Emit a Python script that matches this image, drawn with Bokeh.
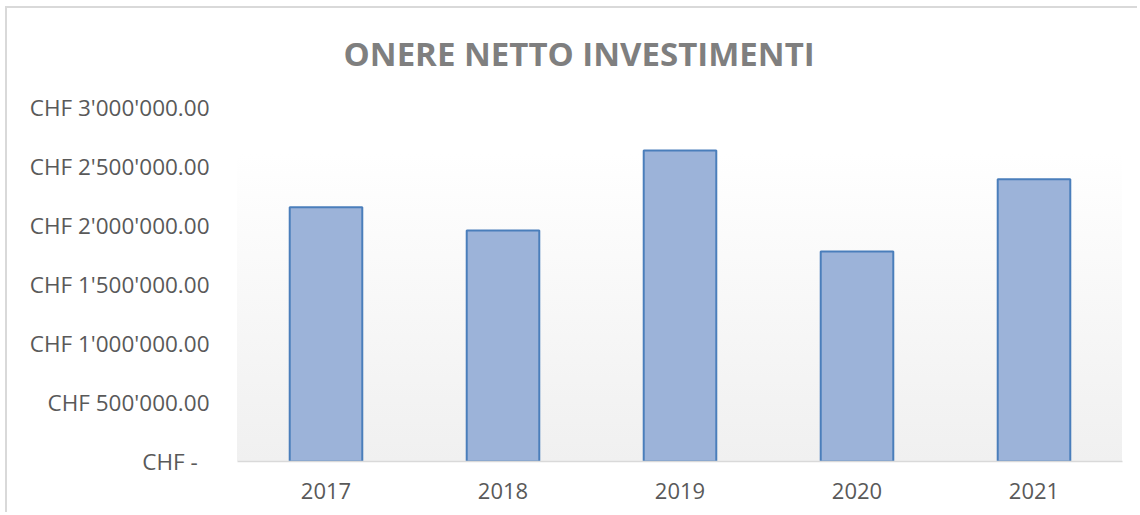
from bokeh.plotting import figure
from bokeh.models import FactorRange, Range1d, FixedTicker, Label
from bokeh.embed import file_html
from bokeh.resources import INLINE

years = ["2017", "2018", "2019", "2020", "2021"]
values = [2155000, 1958000, 2636000, 1780000, 2392000]
y_ticks = [0, 500000, 1000000, 1500000, 2000000, 2500000, 3000000]
y_tick_labels = ["CHF -\u00a0\u00a0", "CHF 500'000.00", "CHF 1'000'000.00", "CHF 1'500'000.00",
                 "CHF 2'000'000.00", "CHF 2'500'000.00", "CHF 3'000'000.00"]
title_text = "ONERE NETTO INVESTIMENTI"

FONT = "Open Sans"

# y range extends above the last tick to leave room for the title inside the frame
p = figure(
    x_range=FactorRange(*years, range_padding=0),
    y_range=Range1d(0, 3670000),
    width=1132, height=506,
    output_backend="svg", toolbar_location=None,
    min_border_left=230, min_border_right=17, min_border_top=20, min_border_bottom=53,
)
p.styles = {
    "margin-top": "6px",
    "margin-left": "5px",
    "border-top": "2px solid #d9d9d9",
    "border-left": "2px solid #d9d9d9",
    "background": "linear-gradient(to bottom, #ffffff, #f0f0f0) 230px 145px / 885px 308px no-repeat, #ffffff",
}
p.background_fill_color = None
p.border_fill_color = None
p.outline_line_color = None

p.vbar(x=years, top=values, width=0.41, bottom=0,
       fill_color="#9cb3d9", line_color="#4a7ebb", line_width=2)

# chart title
p.add_layout(Label(x=1.93, y=3458000, text=title_text, text_align="center",
                   text_baseline="alphabetic", text_font=FONT, text_font_size="33px",
                   text_font_style="bold", text_color="#7f7f7f"))

p.xgrid.grid_line_color = None
p.ygrid.grid_line_color = None

p.yaxis.ticker = FixedTicker(ticks=y_ticks)
p.yaxis.major_label_overrides = {tk: lb for tk, lb in zip(y_ticks, y_tick_labels)}
p.yaxis.axis_line_color = None
p.yaxis.major_tick_line_color = None
p.yaxis.minor_tick_line_color = None
p.yaxis.major_tick_in = 0
p.yaxis.major_tick_out = 0
p.yaxis.major_label_standoff = 28
p.yaxis.major_label_text_font = FONT
p.yaxis.major_label_text_font_size = "22.5px"
p.yaxis.major_label_text_color = "#595959"

p.xaxis.axis_line_color = "#d9d9d9"
p.xaxis.axis_line_width = 1.5
p.xaxis.major_tick_line_color = None
p.xaxis.major_tick_in = 0
p.xaxis.major_tick_out = 0
p.xaxis.major_label_standoff = 21
p.xaxis.major_label_text_font = FONT
p.xaxis.major_label_text_font_size = "22px"
p.xaxis.major_label_text_color = "#595959"

open("out.html", "w").write(file_html(p, INLINE))
